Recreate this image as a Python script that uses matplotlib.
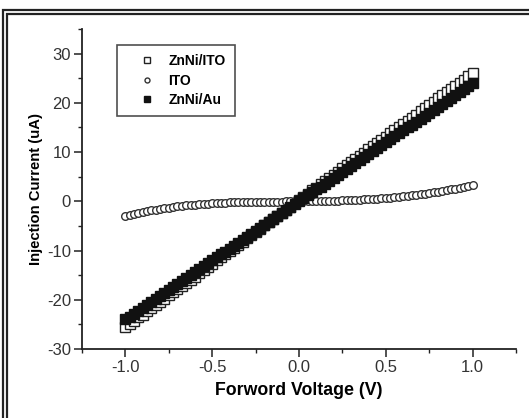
import numpy as np
import matplotlib
matplotlib.use("Agg")
import matplotlib.pyplot as plt
from matplotlib.patches import Rectangle
from matplotlib.ticker import MultipleLocator

plt.rcParams['font.family'] = ['Liberation Sans', 'DejaVu Sans']
plt.rcParams['axes.unicode_minus'] = False

voltage = np.linspace(-1.0, 1.0, 81)

znni_ito = [-25.6, -24.9, -24.3, -23.6, -23.0, -22.3, -21.7, -21.1, -20.4, -19.8,
            -19.1, -18.5, -17.8, -17.2, -16.5, -15.9, -15.3, -14.6, -14.0, -13.3,
            -12.7, -12.0, -11.4, -10.7, -10.1, -9.5, -8.8, -8.2, -7.5, -6.9,
            -6.2, -5.6, -4.9, -4.3, -3.6, -3.0, -2.4, -1.7, -1.1, -0.4,
            0.2,
            0.9, 1.5, 2.2, 2.8, 3.5, 4.1, 4.7, 5.4, 6.0, 6.7,
            7.3, 8.0, 8.6, 9.3, 9.9, 10.6, 11.2, 11.8, 12.5, 13.1,
            13.8, 14.4, 15.1, 15.7, 16.4, 17.0, 17.6, 18.3, 18.9, 19.6,
            20.2, 20.9, 21.5, 22.2, 22.8, 23.5, 24.1, 24.7, 25.4, 26.0]

ito = [-3.0, -2.8, -2.6, -2.4, -2.2, -2.0, -1.85, -1.7, -1.55, -1.4,
       -1.3, -1.15, -1.05, -0.95, -0.85, -0.75, -0.65, -0.57, -0.5, -0.45,
       -0.4, -0.35, -0.3, -0.27, -0.24, -0.21, -0.18, -0.16, -0.14, -0.12,
       -0.1, -0.09, -0.08, -0.07, -0.06, -0.05, -0.04, -0.03, -0.02, -0.01,
       0.0,
       0.02, 0.03, 0.05, 0.06, 0.08, 0.1, 0.12, 0.14, 0.16, 0.19,
       0.22, 0.25, 0.29, 0.33, 0.38, 0.43, 0.48, 0.54, 0.6, 0.67,
       0.74, 0.82, 0.9, 0.99, 1.08, 1.18, 1.29, 1.4, 1.52, 1.65,
       1.79, 1.93, 2.08, 2.24, 2.4, 2.57, 2.75, 2.94, 3.13, 3.3]

znni_au = [-24.0, -23.4, -22.8, -22.2, -21.6, -21.0, -20.4, -19.8, -19.2, -18.6,
           -18.0, -17.4, -16.8, -16.2, -15.6, -15.0, -14.4, -13.8, -13.2, -12.6,
           -12.0, -11.4, -10.8, -10.2, -9.6, -9.0, -8.4, -7.8, -7.2, -6.6,
           -6.0, -5.4, -4.8, -4.2, -3.6, -3.0, -2.4, -1.8, -1.2, -0.6,
           0.0,
           0.6, 1.2, 1.8, 2.4, 3.0, 3.6, 4.2, 4.8, 5.4, 6.0,
           6.6, 7.2, 7.8, 8.4, 9.0, 9.6, 10.2, 10.8, 11.4, 12.0,
           12.6, 13.2, 13.8, 14.4, 15.0, 15.6, 16.2, 16.8, 17.4, 18.0,
           18.6, 19.2, 19.8, 20.4, 21.0, 21.6, 22.2, 22.8, 23.4, 24.0]

labels = ['ZnNi/ITO', 'ITO', 'ZnNi/Au']
xticks = [-1.0, -0.5, 0.0, 0.5, 1.0]
xticklabels = ['-1.0', '-0.5', '0.0', '0.5', '1.0']
yticks = [-30, -20, -10, 0, 10, 20, 30]

fig = plt.figure(figsize=(5.29, 4.18), dpi=100)
W, H = 529, 418
ax = fig.add_axes([82 / W, 1 - 349 / H, (516 - 82) / W, (349 - 29) / H])

ms = 6.5
ax.plot(voltage, znni_ito, linestyle='none', marker='s', markersize=ms,
        markerfacecolor='white', markeredgecolor='#222222', markeredgewidth=1.0,
        label=labels[0])
ax.plot(voltage, ito, linestyle='none', marker='o', markersize=5.5,
        markerfacecolor='white', markeredgecolor='#333333', markeredgewidth=1.0,
        label=labels[1])
ax.plot(voltage, znni_au, linestyle='none', marker='s', markersize=ms,
        markerfacecolor='#111111', markeredgecolor='#111111', markeredgewidth=1.0,
        label=labels[2])

ax.set_xlim(-1.25, 1.25)
ax.set_ylim(-30, 35)
ax.set_xticks(xticks)
ax.set_xticklabels(xticklabels)
ax.set_yticks(yticks)
ax.xaxis.set_minor_locator(MultipleLocator(0.25))
ax.yaxis.set_minor_locator(MultipleLocator(5))
for s in ['top', 'right']:
    ax.spines[s].set_visible(False)
for s in ['left', 'bottom']:
    ax.spines[s].set_linewidth(1.3)
    ax.spines[s].set_color('#222222')
ax.tick_params(which='major', direction='out', length=6, width=1.1,
               labelsize=12, colors='#222222', labelcolor='#333333', pad=2)
ax.tick_params(which='minor', direction='out', length=3, width=1.0, colors='#222222')

ax.set_xlabel('Forword Voltage (V)', fontsize=12.8, fontweight='bold', labelpad=5)
ax.set_ylabel('Injection Current (uA)', fontsize=10.7, fontweight='bold', labelpad=3)

leg = ax.legend(loc='upper left', bbox_to_anchor=(0.081, 0.95), frameon=True,
                fancybox=False, edgecolor='#222222',
                prop={'weight': 'bold', 'size': 10},
                handlelength=3.0, handletextpad=0.05, borderpad=0.65,
                borderaxespad=0.0, labelspacing=0.4, markerscale=0.65)
leg.get_frame().set_linewidth(1.2)

# double frame border of the original figure
for off in (3, 7):
    fig.add_artist(Rectangle((off / W, -0.1), 1.2, 1 - (10 + off - 3) / H + 0.1,
                             transform=fig.transFigure, fill=False,
                             edgecolor='#222222', linewidth=1.6))

fig.savefig('out.png', dpi=100)
